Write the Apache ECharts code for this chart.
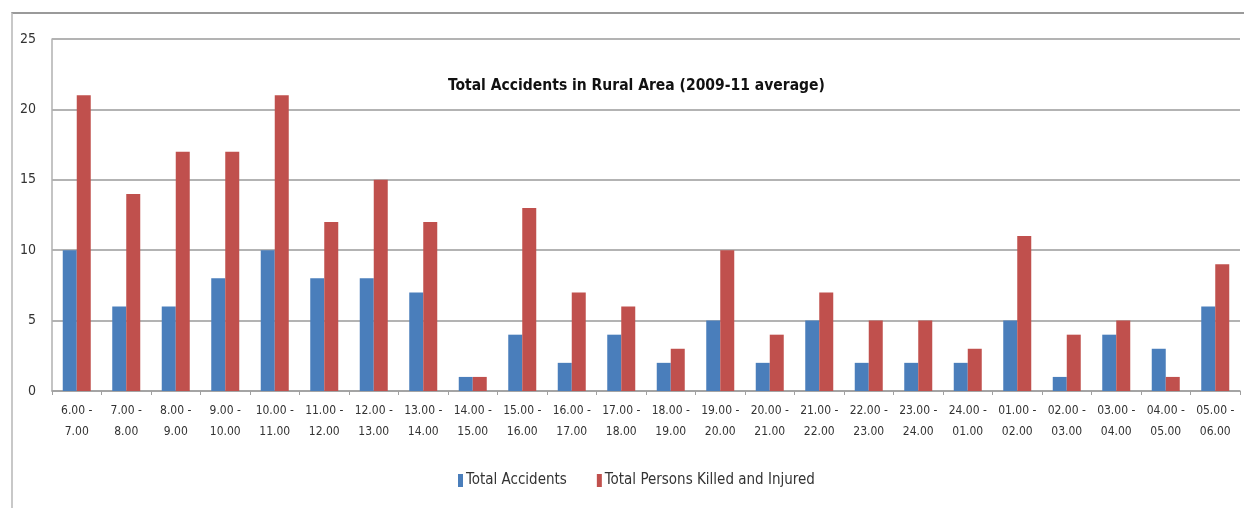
<!DOCTYPE html>
<html>
<head>
<meta charset="utf-8">
<script src="https://cdn.jsdelivr.net/npm/echarts@6/dist/echarts.min.js"></script>
<style>
html,body{margin:0;padding:0;background:#fff;}
#frame{position:absolute;left:11px;top:12px;width:1240px;height:500px;border-left:2px solid #c8c8c8;border-top:2px solid #9a9a9a;}
#chart{position:absolute;left:0;top:0;width:1244px;height:508px;}
</style>
</head>
<body>
<div id="frame"></div>
<div id="chart"></div>
<script>
const categories = ["6.00 -\n7.00","7.00 -\n8.00","8.00 -\n9.00","9.00 -\n10.00","10.00 -\n11.00","11.00 -\n12.00","12.00 -\n13.00","13.00 -\n14.00","14.00 -\n15.00","15.00 -\n16.00","16.00 -\n17.00","17.00 -\n18.00","18.00 -\n19.00","19.00 -\n20.00","20.00 -\n21.00","21.00 -\n22.00","22.00 -\n23.00","23.00 -\n24.00","24.00 -\n01.00","01.00 -\n02.00","02.00 -\n03.00","03.00 -\n04.00","04.00 -\n05.00","05.00 -\n06.00"];
const totalAccidents = [10,6,6,8,10,8,8,7,1,4,2,4,2,5,2,5,2,2,2,5,1,4,3,6];
const totalKilledInjured = [21,14,17,17,21,12,15,12,1,13,7,6,3,10,4,7,5,5,3,11,4,5,1,9];
const seriesNames = ["Total Accidents","Total Persons Killed and Injured"];
const titleText = "Total Accidents in Rural Area (2009-11 average)";

const FONT = "'DejaVu Sans Condensed', 'Liberation Sans Narrow', sans-serif";
const chart = echarts.init(document.getElementById('chart'), null, {renderer:'canvas'});
chart.setOption({
  backgroundColor: 'transparent',
  animation: false,
  title: {
    text: titleText,
    left: 443,
    top: 73,
    textStyle: {fontFamily: FONT, fontSize: 15.5, fontWeight: 'bold', color: '#111'}
  },
  legend: {
    bottom: 15,
    left: 453,
    itemWidth: 5,
    itemHeight: 13,
    itemGap: 30,
    icon: 'rect',
    textStyle: {fontFamily: FONT, fontSize: 15, color: '#333', padding:[0,0,0,-2]},
    data: seriesNames
  },
  grid: {left: 52, right: 4, top: 39, bottom: 117, containLabel: false},
  xAxis: {
    type: 'category',
    data: categories,
    axisLine: {lineStyle: {color: '#a0a0a0', width: 1.5}},
    axisTick: {show: true, length: 4, lineStyle: {color: '#a0a0a0'}},
    axisLabel: {fontFamily: FONT, fontSize: 12, color: '#333', lineHeight: 21, margin: 9, interval: 0}
  },
  yAxis: {
    type: 'value',
    min: 0, max: 25, interval: 5,
    axisLine: {show: true, lineStyle: {color: '#b0b0b0', width: 1.5}},
    axisTick: {show: false},
    splitLine: {lineStyle: {color: '#9a9a9a', width: 1.5}},
    axisLabel: {fontFamily: FONT, fontSize: 14, color: '#333', margin: 16}
  },
  series: [
    {name: seriesNames[0], type: 'bar', data: totalAccidents, barWidth: 14, barGap: '0%',
     itemStyle: {color: '#4a7ebb'}},
    {name: seriesNames[1], type: 'bar', data: totalKilledInjured, barWidth: 14, barGap: '0%',
     itemStyle: {color: '#c0504d'}}
  ]
});
</script>
</body>
</html>
